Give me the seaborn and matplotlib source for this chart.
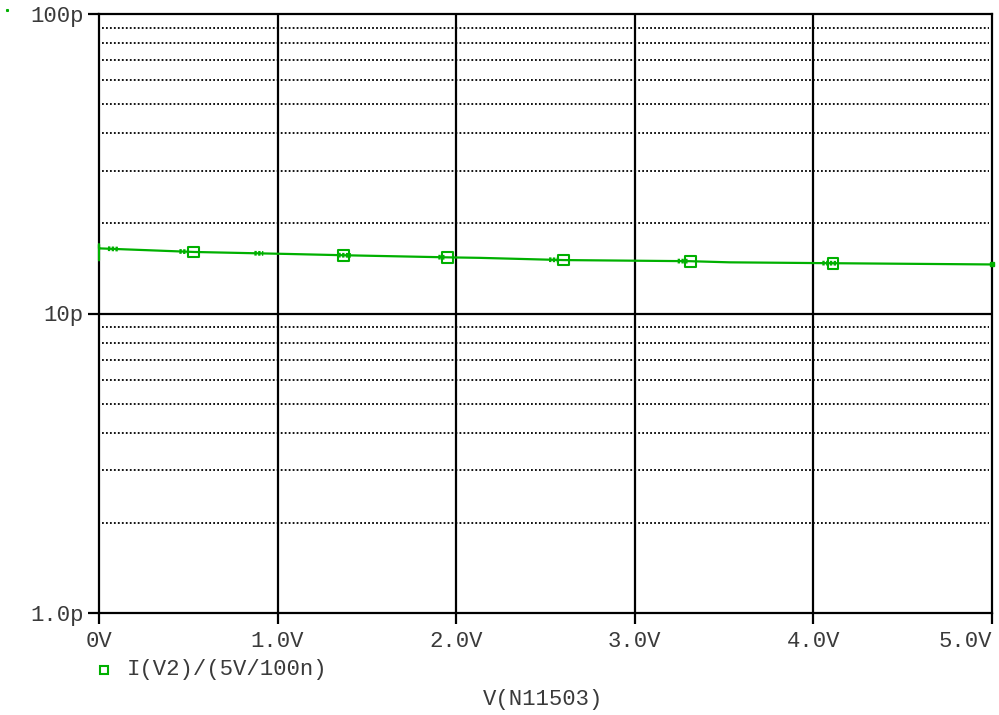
import matplotlib
matplotlib.use("Agg")
import matplotlib.pyplot as plt
import matplotlib.lines as mlines
import numpy as np
import pandas as pd
import seaborn as sns
from matplotlib.ticker import FixedLocator, FixedFormatter, NullFormatter

# Sweep of V(N11503) and the normalised current I(V2)/(5V/100n), in pF
sweep_v = [0.0, 0.0, 0.0, 0.53, 1.07, 1.37, 1.95, 2.13, 2.60, 3.31, 3.53, 4.11, 5.0]
current_pf = [15.05, 17.0, 16.5, 16.05, 15.8, 15.65, 15.4, 15.34, 15.08, 14.95, 14.82, 14.72, 14.58]

# Sample points carrying the trace symbol
marker_v = [0.53, 1.37, 1.95, 2.60, 3.31, 4.11]
marker_pf = [16.05, 15.65, 15.4, 15.08, 14.95, 14.72]

# Stretches of the sweep where the simulator's step control chatters
chatter_start_v = [0.05, 0.45, 0.87, 1.34, 1.90, 2.52, 3.24, 4.05]
chatter_end_v = [0.11, 0.50, 0.92, 1.41, 1.94, 2.58, 3.30, 4.13]

x_ticks = [0, 1, 2, 3, 4, 5]
x_labels = ["0V", "1.0V", "2.0V", "3.0V", "4.0V", "5.0V"]
y_ticks = [1, 10, 100]
y_labels = ["1.0p", "10p", "100p"]

trace_name = "I(V2)/(5V/100n)"
x_title = "V(N11503)"

GREEN = "#00b000"
TEXT = "#3a3a3a"
FONT = "Liberation Mono"
FS = 16

sns.set_theme(style="white")
plt.rcParams["font.family"] = [FONT, "DejaVu Sans Mono"]

fig = plt.figure(figsize=(9.99, 7.15), dpi=100)
ax = fig.add_axes([99 / 999, 1 - 613 / 715, (992 - 99) / 999, (613 - 14) / 715])

df = pd.DataFrame({"v": sweep_v, "i": current_pf})
sns.lineplot(data=df, x="v", y="i", sort=False, estimator=None,
             color=GREEN, lw=1.6, ax=ax, zorder=4)
for ln in ax.lines:
    ln.set_clip_on(False)

# Chatter stretches drawn as short heavy dotted runs on the trace
trace_v = np.array(sweep_v[2:])
trace_i = np.array(current_pf[2:])
for a, b in zip(chatter_start_v, chatter_end_v):
    seg_v = np.array([a, b])
    seg_i = np.interp(seg_v, trace_v, trace_i)
    ax.plot(seg_v, seg_i, color=GREEN, lw=3.4, ls=(0, (0.5, 0.3)),
            solid_capstyle="butt", zorder=4)

mk = pd.DataFrame({"v": marker_v, "i": marker_pf})
sns.scatterplot(data=mk, x="v", y="i", marker="s", s=60, facecolor="none",
                edgecolor=GREEN, linewidth=1.5, ax=ax, zorder=5)
# end-of-sweep point
ax.plot([sweep_v[-1]], [current_pf[-1]], marker="s", ms=3.5, color=GREEN,
        ls="none", clip_on=False, zorder=5)

ax.set_yscale("log")
ax.set_xlim(0, 5)
ax.set_ylim(1, 100)

# Major grid: solid black; minor decades: dotted
minor = [m * d for d in (1, 10) for m in range(2, 10)]
for yv in minor:
    ax.axhline(yv, xmin=0.003, xmax=0.997, color="black", lw=1.3,
               ls=(0, (1, 1.2)), zorder=1)
ax.axhline(10, color="black", lw=1.6, zorder=2)
for xv in x_ticks[1:-1]:
    ax.axvline(xv, color="black", lw=1.6, zorder=2)

ax.xaxis.set_major_locator(FixedLocator(x_ticks))
ax.xaxis.set_major_formatter(FixedFormatter(x_labels))
ax.yaxis.set_major_locator(FixedLocator(y_ticks))
ax.yaxis.set_major_formatter(FixedFormatter(y_labels))
ax.yaxis.set_minor_locator(FixedLocator([]))
ax.yaxis.set_minor_formatter(NullFormatter())

ax.tick_params(axis="both", which="major", direction="out", length=8,
               width=1.6, color="black", labelsize=FS, labelcolor=TEXT)
ax.tick_params(axis="x", pad=5, bottom=True)
ax.tick_params(axis="y", pad=3, left=True)
for s in ax.spines.values():
    s.set_visible(True)
    s.set_color("black")
    s.set_linewidth(1.6)

# last sweep label sits flush with the right edge of the frame
ax.get_xticklabels()[-1].set_horizontalalignment("right")

ax.set_xlabel("")
ax.set_ylabel("")

# Trace legend and sweep variable title
fig.add_artist(mlines.Line2D([104 / 999], [1 - 670 / 715], marker="s", ms=6,
                             mfc="none", mec=GREEN, mew=1.5, ls="none"))
fig.text(127 / 999, 1 - 670 / 715, trace_name, fontsize=FS, color=TEXT,
         va="center", ha="left")
fig.text(543 / 999, 1 - 700 / 715, x_title, fontsize=FS, color=TEXT,
         va="center", ha="center")
fig.add_artist(mlines.Line2D([7 / 999], [1 - 10 / 715], marker="s", ms=1.2,
                             mfc=GREEN, mec=GREEN, ls="none"))

fig.savefig("out.png", dpi=100)
